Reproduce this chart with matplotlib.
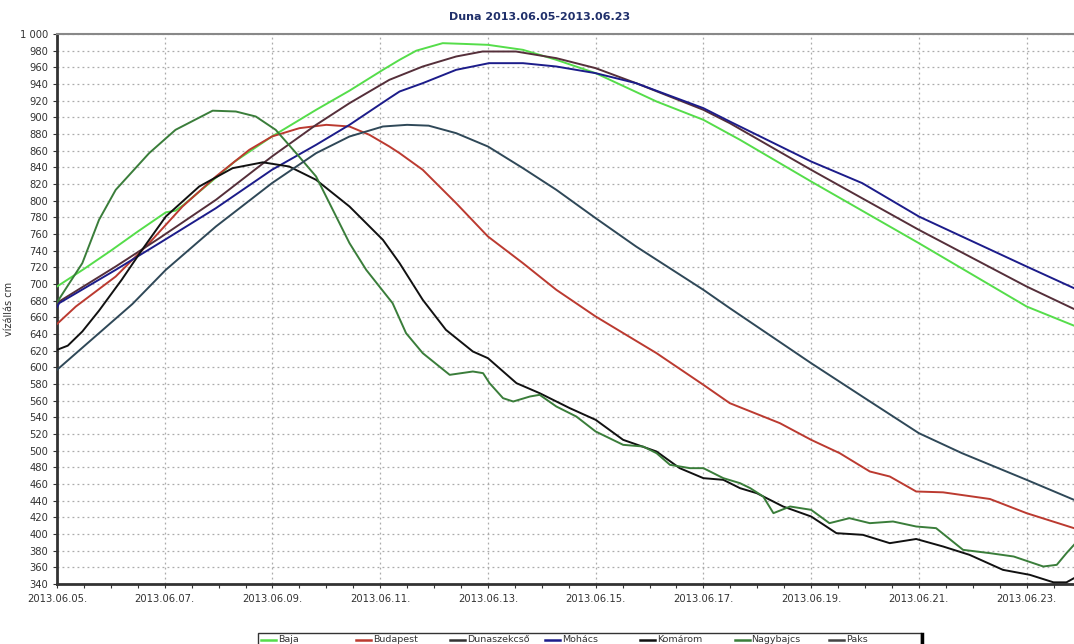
import matplotlib
import numpy as np
import pandas as pd

matplotlib.use("Agg")
import matplotlib.dates as mdates
import matplotlib.pyplot as plt
from matplotlib.lines import Line2D
from matplotlib.patches import Rectangle
from matplotlib.ticker import FuncFormatter, MultipleLocator

START = pd.Timestamp("2013-06-05")

# days after 2013.06.05 00:00, water level in cm
BAJA_DAYS = [0, 0.5, 1, 1.5, 2.02, 2.2, 2.35, 2.83, 3.3, 3.99, 4.81, 5.43, 6.05, 6.36, 6.67,
             7.16, 7.6, 8.0, 8.65, 9.27, 10.0, 11.13, 12.0, 12.68, 14.0, 16.0, 18.0, 18.88]
BAJA_CM = [697, 718, 740, 763, 786, 788, 795, 821, 847, 877, 909, 932, 957, 969, 980,
           989, 988, 987, 981, 969, 953, 919, 897, 873, 823, 749, 673, 650]

BUDAPEST_DAYS = [0, 0.35, 1.09, 1.71, 2.33, 2.95, 3.57, 3.99, 4.5, 5.0, 5.43, 5.8, 6.17, 6.36,
                 6.79, 7.41, 8.0, 8.65, 9.27, 10.0, 11.13, 12.0, 12.49, 13.42, 14.0, 14.53,
                 15.09, 15.46, 15.95, 16.45, 17.32, 18.0, 18.88]
BUDAPEST_CM = [652, 673, 709, 749, 793, 829, 861, 877, 887, 891, 889, 879, 865, 857,
               837, 797, 757, 725, 693, 661, 617, 579, 557, 533, 513, 497,
               475, 469, 451, 450, 442, 425, 407]

DUNASZEKCSO_DAYS = [0, 0.04, 1.09, 1.9, 2.95, 3.99, 4.81, 5.43, 6.17, 6.79, 7.41, 7.9, 8.52,
                    9.27, 10.0, 10.75, 12.0, 12.49, 14.0, 16.0, 18.0, 18.88]
DUNASZEKCSO_CM = [673, 679, 721, 755, 801, 853, 891, 917, 945, 961, 973, 979, 979,
                  971, 959, 941, 909, 893, 837, 765, 697, 670]

MOHACS_DAYS = [0, 0.04, 1.09, 1.9, 2.95, 3.99, 4.81, 5.43, 6.17, 6.36, 6.79, 7.41, 8.02, 8.65,
               9.27, 10.0, 10.75, 12.0, 12.49, 14.0, 14.95, 16.0, 18.0, 18.88]
MOHACS_CM = [672, 677, 717, 749, 791, 837, 867, 891, 923, 931, 941, 957, 965, 965,
             961, 953, 941, 911, 895, 847, 821, 781, 721, 695]

KOMAROM_DAYS = [0, 0.2, 0.47, 0.78, 1.2, 1.59, 2.02, 2.64, 3.26, 3.82, 4.31, 4.81, 5.43, 6.05,
                6.36, 6.79, 7.22, 7.72, 8.0, 8.53, 8.96, 9.52, 10.0, 10.51, 11.13, 11.56,
                12.0, 12.37, 12.68, 12.99, 13.48, 14.0, 14.47, 14.96, 15.46, 15.95, 16.45,
                16.94, 17.56, 18.06, 18.5, 18.74, 18.88]
KOMAROM_CM = [621, 626, 643, 668, 705, 742, 781, 817, 839, 846, 841, 825, 793, 753,
              725, 681, 645, 619, 611, 581, 569, 551, 537, 513, 499, 479,
              467, 465, 455, 449, 433, 421, 401, 399, 389, 394, 385,
              375, 357, 351, 342, 342, 347]

NAGYBAJCS_DAYS = [0, 0.47, 0.78, 1.09, 1.71, 2.2, 2.89, 3.32, 3.69, 4.06, 4.44, 4.81, 5.12,
                  5.43, 5.74, 6.23, 6.48, 6.79, 7.29, 7.72, 7.91, 8.03, 8.28, 8.47, 8.78,
                  8.96, 9.27, 9.64, 10.0, 10.51, 10.88, 11.13, 11.38, 11.75, 12.0, 12.37,
                  12.68, 12.87, 13.11, 13.3, 13.61, 14.0, 14.34, 14.71, 15.09, 15.52, 15.95,
                  16.32, 16.82, 17.32, 17.76, 18.31, 18.56, 18.74, 18.88]
NAGYBAJCS_CM = [678, 725, 777, 813, 857, 885, 908, 907, 901, 885, 857, 829, 789,
                749, 717, 677, 641, 617, 591, 595, 593, 581, 563, 559, 565,
                567, 553, 541, 523, 507, 505, 497, 483, 479, 479, 467,
                461, 455, 445, 425, 433, 429, 413, 419, 413, 415, 409,
                407, 381, 377, 373, 361, 363, 377, 387]

PAKS_DAYS = [0, 0.78, 1.4, 2.02, 2.95, 3.99, 4.81, 5.43, 6.05, 6.5, 6.9, 7.41, 8.0, 8.65,
             9.27, 10.0, 10.75, 12.0, 12.49, 14.0, 14.95, 16.0, 16.8, 18.0, 18.88]
PAKS_CM = [597, 641, 676, 717, 769, 821, 857, 877, 889, 891, 890, 881, 865, 839,
           813, 779, 745, 693, 671, 605, 565, 521, 497, 465, 441]

STATIONS = ["Baja", "Budapest", "Dunaszekcső", "Mohács", "Komárom", "Nagybajcs", "Paks"]
SERIES = {
    "Baja": (BAJA_DAYS, BAJA_CM),
    "Budapest": (BUDAPEST_DAYS, BUDAPEST_CM),
    "Dunaszekcső": (DUNASZEKCSO_DAYS, DUNASZEKCSO_CM),
    "Mohács": (MOHACS_DAYS, MOHACS_CM),
    "Komárom": (KOMAROM_DAYS, KOMAROM_CM),
    "Nagybajcs": (NAGYBAJCS_DAYS, NAGYBAJCS_CM),
    "Paks": (PAKS_DAYS, PAKS_CM),
}
COLORS = {
    "Baja": "#55dd4a",
    "Budapest": "#bb3a30",
    "Dunaszekcső": "#552f3a",
    "Mohács": "#1c1c8a",
    "Komárom": "#111111",
    "Nagybajcs": "#3a7d3a",
    "Paks": "#2f4858",
}
LEGEND_COLORS = dict(COLORS, **{"Dunaszekcső": "#333333", "Paks": "#444444"})


def to_dates(days):
    return START + pd.to_timedelta(np.asarray(days, dtype=float), unit="D")


fig = plt.figure(figsize=(10.74, 6.44), dpi=100)
ax = fig.add_axes([57 / 1074, 1 - 584 / 644, 1 - 57 / 1074, 550 / 644])

for name in STATIONS:
    days, cm = SERIES[name]
    ax.plot(to_dates(days), cm, color=COLORS[name], linewidth=1.4, zorder=3)

ax.set_xlim(START, START + pd.Timedelta(days=18.88))
ax.set_ylim(340, 1000)

ax.xaxis.set_major_locator(mdates.DayLocator(bymonthday=list(range(5, 24, 2))))
ax.xaxis.set_major_formatter(mdates.DateFormatter("%Y.%m.%d."))
ax.xaxis.set_minor_locator(mdates.HourLocator(byhour=[0, 12]))
ax.yaxis.set_major_locator(MultipleLocator(20))
ax.yaxis.set_major_formatter(FuncFormatter(lambda v, _: f"{v:,.0f}".replace(",", " ")))

ax.tick_params(axis="both", which="major", labelsize=7.2, colors="#333333", length=3, width=0.8)
ax.tick_params(axis="x", which="minor", length=3, width=0.8, color="#333333")
ax.tick_params(axis="x", which="major", pad=4)

ax.grid(which="major", color="#ababab", linestyle=(0, (1.5, 2.5)), linewidth=0.9, zorder=0)

for side in ("left", "bottom"):
    ax.spines[side].set_color("#333333")
    ax.spines[side].set_linewidth(2.0)
ax.spines["top"].set_color("#888888")
ax.spines["top"].set_linewidth(1.5)
ax.spines["right"].set_visible(False)

ax.set_ylabel("vízállás cm", fontsize=7, color="#333333")
ax.yaxis.set_label_coords(-43 / 1017, 0.5)
fig.text(540 / 1074, 1 - 17 / 644, "Duna 2013.06.05-2013.06.23", ha="center", va="center",
         fontsize=8, fontweight="bold", color="#1f2f6a")

# legend box at the bottom, one row, cut by the lower edge
box_left, box_right, box_top = 258 / 1074, 921 / 1074, 1 - 633 / 644
fig.add_artist(Rectangle((box_left, box_top - 30 / 644), box_right - box_left, 30 / 644,
                         transform=fig.transFigure, facecolor="white", edgecolor="#333333",
                         linewidth=1.0))
fig.add_artist(Line2D([922 / 1074, 922 / 1074], [box_top - 1 / 644, 0], transform=fig.transFigure,
                      color="black", linewidth=2.5))
row_y = 1 - 640 / 644
for i, name in enumerate(STATIONS):
    x0 = (261 + i * 94.7) / 1074
    fig.add_artist(Line2D([x0, x0 + 15 / 1074], [row_y, row_y], transform=fig.transFigure,
                          color=LEGEND_COLORS[name], linewidth=1.8))
    fig.text(x0 + 17 / 1074, row_y, name, ha="left", va="center", fontsize=6.8, color="#333333")

fig.savefig("out.png", dpi=100)
